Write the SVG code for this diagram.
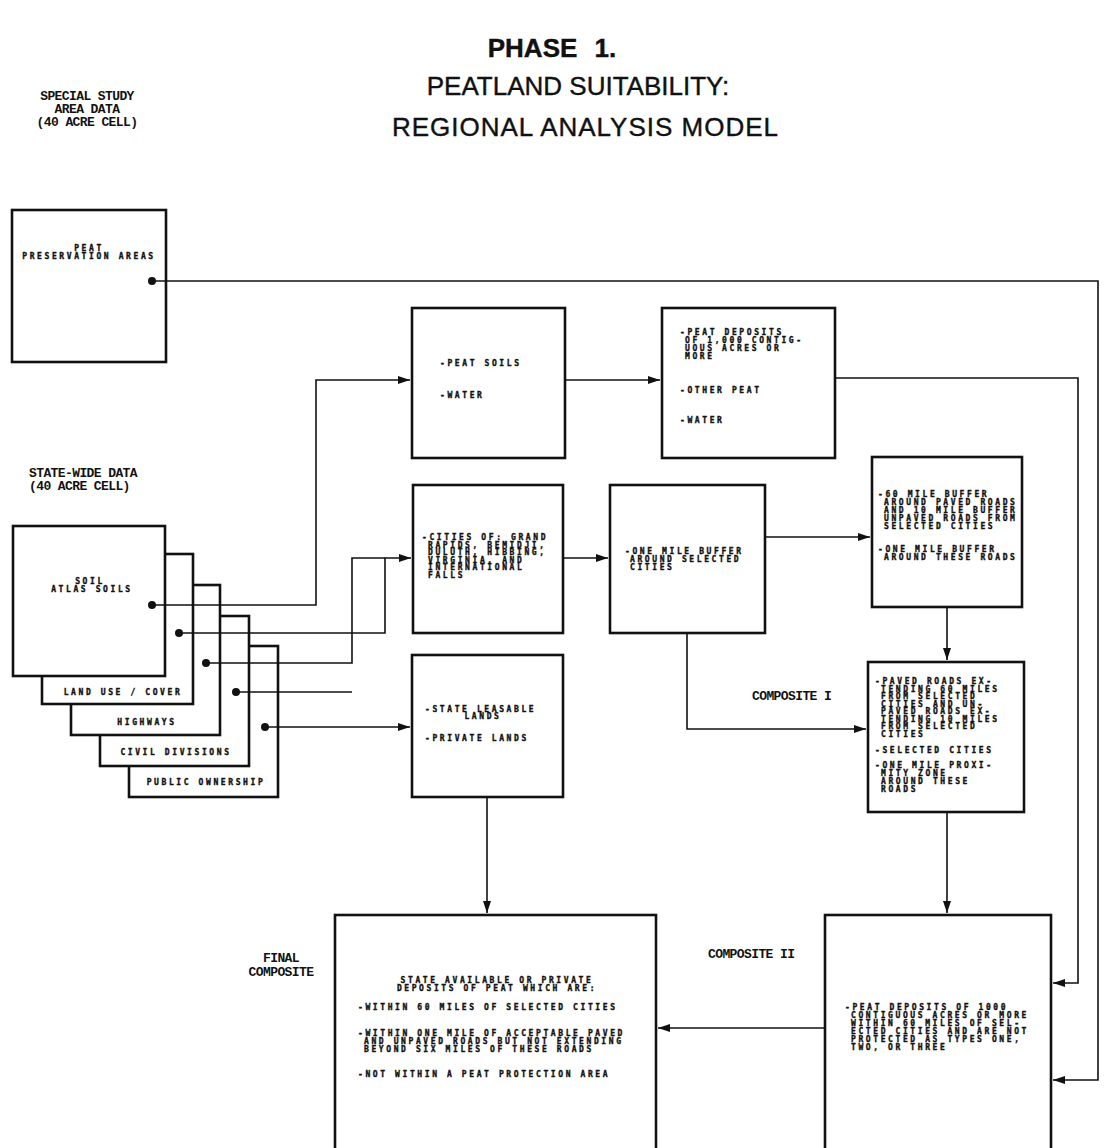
<svg xmlns="http://www.w3.org/2000/svg" width="1104" height="1148" viewBox="0 0 1104 1148">
<style>
.title{font-family:"Liberation Sans",Arial,sans-serif;font-size:26px;fill:#111;text-anchor:middle;stroke:#111;stroke-width:0.4}
.lbl{font-family:"Liberation Mono","DejaVu Sans Mono",monospace;font-weight:bold;font-size:13px;letter-spacing:-0.6px;fill:#111}
.t{font-family:"DejaVu Sans Mono","Liberation Mono",monospace;font-weight:bold;font-size:8px;letter-spacing:2.6px;fill:#111;stroke:#111;stroke-width:0.35}
.c{text-anchor:middle}
.box{fill:#fff;stroke:#111;stroke-width:2.6}
.ln{fill:none;stroke:#111;stroke-width:1.6}
.dot{fill:#111}
</style>
<defs>
<marker id="ah" viewBox="0 0 12 8" refX="12" refY="4" markerWidth="12" markerHeight="8" markerUnits="userSpaceOnUse" orient="auto">
<path d="M0,0 L12,4 L0,8 Z" fill="#111"/>
</marker>
</defs>

<g id="titles">
<text class="title" x="552" y="57" font-size="21" word-spacing="10" font-weight="bold" stroke-width="0">PHASE 1.</text>
<text class="title" x="578" y="95">PEATLAND SUITABILITY:</text>
<text class="title" x="585" y="136" textLength="386">REGIONAL ANALYSIS MODEL</text>
</g>

<g id="label-special">
<text class="lbl c" x="87" y="100">SPECIAL STUDY</text>
<text class="lbl c" x="87" y="113">AREA DATA</text>
<text class="lbl c" x="87" y="126">(40 ACRE CELL)</text>
</g>
<g id="label-statewide">
<text class="lbl" x="29" y="477">STATE-WIDE DATA</text>
<text class="lbl" x="29" y="490">(40 ACRE CELL)</text>
</g>
<g id="label-composite1"><text class="lbl" x="752" y="700">COMPOSITE I</text></g>
<g id="label-composite2"><text class="lbl" x="708" y="958">COMPOSITE II</text></g>
<g id="label-final">
<text class="lbl c" x="281" y="962">FINAL</text>
<text class="lbl c" x="281" y="976">COMPOSITE</text>
</g>

<g id="node-peat-preservation">
<rect class="box" x="12" y="210" width="154" height="152"/>
<text class="t c" x="89" y="251">PEAT</text>
<text class="t c" x="89" y="259">PRESERVATION AREAS</text>
<circle class="dot" cx="152" cy="281" r="4"/>
</g>

<g id="node-public-ownership">
<rect class="box" x="129" y="646" width="149" height="151"/>
<text class="t c" x="206" y="785">PUBLIC OWNERSHIP</text>
<circle class="dot" cx="265" cy="727" r="4"/>
</g>
<g id="node-civil-divisions">
<rect class="box" x="100" y="616" width="149" height="150"/>
<text class="t c" x="176" y="755">CIVIL DIVISIONS</text>
<circle class="dot" cx="236" cy="692" r="4"/>
</g>
<g id="node-highways">
<rect class="box" x="71" y="585" width="149" height="150"/>
<text class="t c" x="147" y="725">HIGHWAYS</text>
<circle class="dot" cx="206" cy="663" r="4"/>
</g>
<g id="node-land-use">
<rect class="box" x="42" y="554" width="151" height="150"/>
<text class="t c" x="123" y="695">LAND USE / COVER</text>
<circle class="dot" cx="179" cy="633" r="4"/>
</g>
<g id="node-soil">
<rect class="box" x="13" y="526" width="152" height="150"/>
<text class="t c" x="90" y="584">SOIL</text>
<text class="t c" x="92" y="592">ATLAS SOILS</text>
<circle class="dot" cx="152" cy="605" r="4"/>
</g>

<g id="node-peat-soils">
<rect class="box" x="412" y="308" width="153" height="150"/>
<text class="t" x="440" y="366">-PEAT SOILS</text>
<text class="t" x="440" y="398">-WATER</text>
</g>

<g id="node-peat-deposits">
<rect class="box" x="662" y="308" width="173" height="150"/>
<text class="t" x="680" y="335">-PEAT DEPOSITS</text>
<text class="t" x="685" y="343">OF 1,000 CONTIG-</text>
<text class="t" x="685" y="351">UOUS ACRES OR</text>
<text class="t" x="685" y="359">MORE</text>
<text class="t" x="680" y="393">-OTHER PEAT</text>
<text class="t" x="680" y="423">-WATER</text>
</g>

<g id="node-cities">
<rect class="box" x="413" y="485" width="150" height="148"/>
<text class="t" x="422" y="540">-CITIES OF: GRAND</text>
<text class="t" x="428" y="547.5">RAPIDS, BEMIDJI,</text>
<text class="t" x="428" y="555">DULUTH, HIBBING,</text>
<text class="t" x="428" y="562.5">VIRGINIA, AND</text>
<text class="t" x="428" y="570">INTERNATIONAL</text>
<text class="t" x="428" y="577.5">FALLS</text>
</g>

<g id="node-one-mile-buffer">
<rect class="box" x="610" y="485" width="155" height="148"/>
<text class="t" x="625" y="554">-ONE MILE BUFFER</text>
<text class="t" x="630" y="562">AROUND SELECTED</text>
<text class="t" x="630" y="570">CITIES</text>
</g>

<g id="node-road-buffers">
<rect class="box" x="872" y="457" width="150" height="150"/>
<text class="t" x="878" y="497" letter-spacing="2.2">-60 MILE BUFFER</text>
<text class="t" x="884" y="505" letter-spacing="2.2">AROUND PAVED ROADS</text>
<text class="t" x="884" y="513" letter-spacing="2.2">AND 10 MILE BUFFER</text>
<text class="t" x="884" y="521" letter-spacing="2.2">UNPAVED ROADS FROM</text>
<text class="t" x="884" y="529" letter-spacing="2.2">SELECTED CITIES</text>
<text class="t" x="878" y="552" letter-spacing="2.2">-ONE MILE BUFFER</text>
<text class="t" x="884" y="560" letter-spacing="2.2">AROUND THESE ROADS</text>
</g>

<g id="node-composite-1">
<rect class="box" x="868" y="662" width="156" height="150"/>
<text class="t" x="875" y="684">-PAVED ROADS EX-</text>
<text class="t" x="881" y="691.5">TENDING 60 MILES</text>
<text class="t" x="881" y="699">FROM SELECTED</text>
<text class="t" x="881" y="706.5">CITIES AND UN-</text>
<text class="t" x="881" y="714">PAVED ROADS EX-</text>
<text class="t" x="881" y="721.5">TENDING 10 MILES</text>
<text class="t" x="881" y="729">FROM SELECTED</text>
<text class="t" x="881" y="736.5">CITIES</text>
<text class="t" x="875" y="753">-SELECTED CITIES</text>
<text class="t" x="875" y="768">-ONE MILE PROXI-</text>
<text class="t" x="881" y="776">MITY ZONE</text>
<text class="t" x="881" y="784">AROUND THESE</text>
<text class="t" x="881" y="792">ROADS</text>
</g>

<g id="node-lands">
<rect class="box" x="412" y="655" width="151" height="142"/>
<text class="t" x="425" y="712">-STATE LEASABLE</text>
<text class="t c" x="483" y="719">LANDS</text>
<text class="t" x="425" y="741">-PRIVATE LANDS</text>
</g>

<g id="node-final-composite">
<rect class="box" x="335" y="915" width="321" height="250"/>
<text class="t c" x="497" y="983">STATE AVAILABLE OR PRIVATE</text>
<text class="t c" x="497" y="991">DEPOSITS OF PEAT WHICH ARE:</text>
<text class="t" x="358" y="1010">-WITHIN 60 MILES OF SELECTED CITIES</text>
<text class="t" x="358" y="1036">-WITHIN ONE MILE OF ACCEPTABLE PAVED</text>
<text class="t" x="364" y="1044">AND UNPAVED ROADS BUT NOT EXTENDING</text>
<text class="t" x="364" y="1052">BEYOND SIX MILES OF THESE ROADS</text>
<text class="t" x="358" y="1077">-NOT WITHIN A PEAT PROTECTION AREA</text>
</g>

<g id="node-composite-2">
<rect class="box" x="825" y="915" width="226" height="250"/>
<text class="t" x="845" y="1010">-PEAT DEPOSITS OF 1000</text>
<text class="t" x="851" y="1018">CONTIGUOUS ACRES OR MORE</text>
<text class="t" x="851" y="1026">WITHIN 60 MILES OF SEL-</text>
<text class="t" x="851" y="1034">ECTED CITIES AND ARE NOT</text>
<text class="t" x="851" y="1042">PROTECTED AS TYPES ONE,</text>
<text class="t" x="851" y="1050">TWO, OR THREE</text>
</g>

<g id="connectors">
<path class="ln" d="M152,281 H1098 V1080 H1053" marker-end="url(#ah)"/>
<path class="ln" d="M835,378 H1078 V983 H1053" marker-end="url(#ah)"/>
<path class="ln" d="M565,380 H660" marker-end="url(#ah)"/>
<path class="ln" d="M152,605 H316 V380 H410" marker-end="url(#ah)"/>
<path class="ln" d="M179,633 H385 V558 H411" marker-end="url(#ah)"/>
<path class="ln" d="M206,663 H352 V558 H385"/>
<path class="ln" d="M236,692 H352"/>
<path class="ln" d="M265,727 H410" marker-end="url(#ah)"/>
<path class="ln" d="M563,558 H608" marker-end="url(#ah)"/>
<path class="ln" d="M765,537 H870" marker-end="url(#ah)"/>
<path class="ln" d="M947,607 V660" marker-end="url(#ah)"/>
<path class="ln" d="M687,633 V729 H866" marker-end="url(#ah)"/>
<path class="ln" d="M947,812 V913" marker-end="url(#ah)"/>
<path class="ln" d="M487,797 V913" marker-end="url(#ah)"/>
<path class="ln" d="M825,1028 H658" marker-end="url(#ah)"/>
</g>
</svg>
